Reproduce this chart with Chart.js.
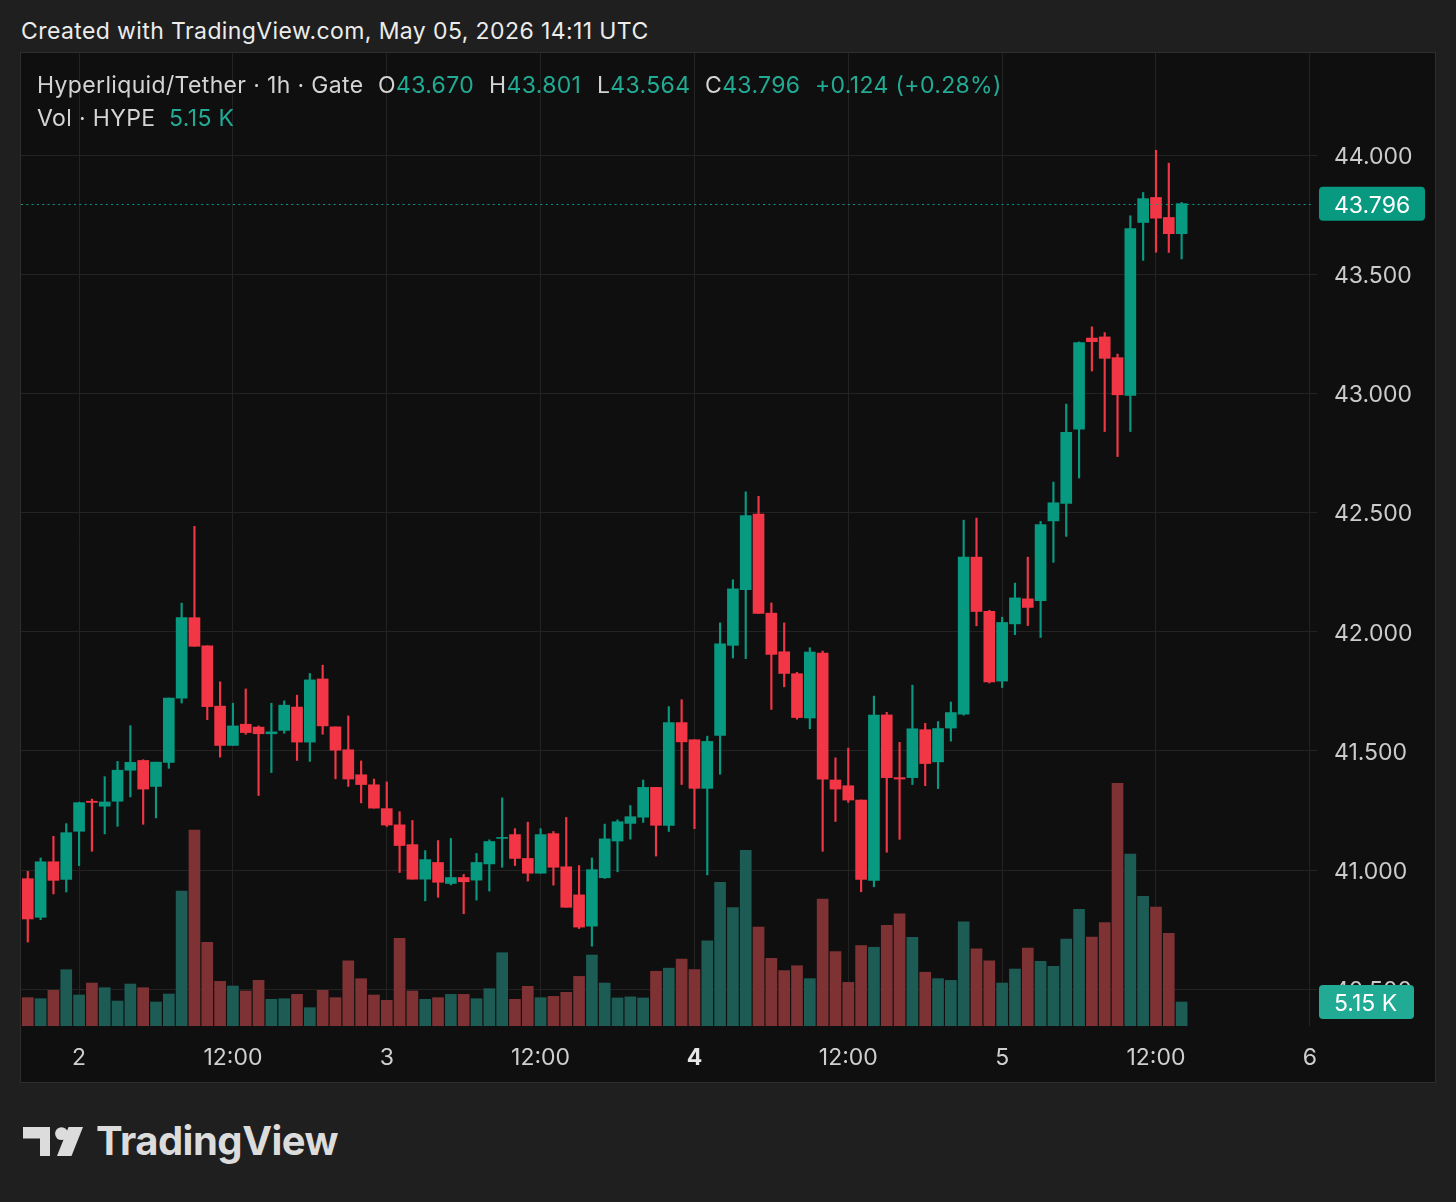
<!DOCTYPE html>
<html>
<head>
<meta charset="utf-8">
<script src="https://cdn.jsdelivr.net/npm/chart.js@4.4.1/dist/chart.umd.min.js"></script>
<style>
  html, body { margin: 0; padding: 0; background: #1f1f1f; width: 1456px; height: 1202px; overflow: hidden; font-family: Inter, "Noto Sans", sans-serif; }
  #created { position: absolute; left: 21px; top: 17px; font-size: 23px; line-height: 28px; color: #ececec; white-space: pre; letter-spacing: 0.4px; }
  #panel { position: absolute; left: 20px; top: 52px; width: 1416px; height: 1031px; box-sizing: border-box; border: 1px solid #2e2e2e; background: #0f0f0f; }
  #chart { position: absolute; left: 0; top: 0; }
  .lg { position: absolute; font-size: 23px; line-height: 28px; color: #d4d4d4; white-space: pre; letter-spacing: 0.35px; }
  .up { color: #22ab94; }
  #logoText { position: absolute; left: 96px; top: 1117px; font-size: 40px; line-height: 48px; font-weight: 700; color: #dcdcdc; letter-spacing: -0.5px; }
  #logoIcon { position: absolute; left: 23px; top: 1127px; }
</style>
</head>
<body>
<div id="created">Created with TradingView.com, May 05, 2026 14:11 UTC</div>
<div id="panel"><canvas id="chart" width="1414" height="1029"></canvas></div>

<div class="lg" style="left:37px;top:71px">Hyperliquid/Tether · 1h · Gate</div>
<div class="lg" style="left:378px;top:71px">O<span class="up">43.670</span></div>
<div class="lg" style="left:489px;top:71px">H<span class="up">43.801</span></div>
<div class="lg" style="left:597px;top:71px">L<span class="up">43.564</span></div>
<div class="lg" style="left:705px;top:71px">C<span class="up">43.796</span></div>
<div class="lg up" style="left:815px;top:71px">+0.124 (+0.28%)</div>
<div class="lg" style="left:37px;top:104px">Vol · HYPE</div>
<div class="lg up" style="left:169px;top:104px">5.15 K</div>

<svg id="logoIcon" width="62" height="30" viewBox="0 0 62 30">
  <path d="M0 0 H27 V29 H17 V11.5 H0 Z" fill="#dcdcdc"/>
  <circle cx="38.5" cy="6.6" r="6.4" fill="#dcdcdc"/>
  <path d="M45.5 0 H60 L48.5 29 H34 Z" fill="#dcdcdc"/>
</svg>
<div id="logoText">TradingView</div>

<script>
// hourly candles, May 1 20:00 -> May 5 14:00 UTC
const opens = [40.964, 40.802, 41.035, 40.961, 41.163, 41.289, 41.268, 41.289, 41.419, 41.460,
  41.351, 41.452, 41.721, 42.059, 41.941, 41.688, 41.523, 41.612, 41.600, 41.572,
  41.586, 41.684, 41.537, 41.802, 41.601, 41.505, 41.400, 41.358, 41.258, 41.190,
  41.107, 40.962, 41.032, 40.944, 40.969, 40.958, 41.026, 41.133, 41.149, 41.049,
  40.987, 41.153, 41.014, 40.896, 40.765, 40.968, 41.122, 41.196, 41.222, 41.347,
  41.188, 41.619, 41.547, 41.343, 41.565, 41.943, 42.177, 42.494, 42.078, 41.916,
  41.824, 41.638, 41.910, 41.378, 41.354, 41.294, 40.957, 41.651, 41.388, 41.388,
  41.589, 41.454, 41.596, 41.654, 42.313, 42.086, 41.793, 42.033, 42.138, 42.130,
  42.465, 42.538, 42.850, 43.232, 43.237, 43.150, 42.991, 43.717, 43.822, 43.738,
  43.670];
const highs = [40.995, 41.051, 41.142, 41.195, 41.285, 41.298, 41.392, 41.456, 41.606, 41.463,
  41.453, 41.722, 42.120, 42.442, 41.941, 41.790, 41.700, 41.760, 41.605, 41.700,
  41.710, 41.734, 41.825, 41.860, 41.601, 41.647, 41.458, 41.382, 41.370, 41.245,
  41.208, 41.082, 41.124, 41.133, 40.982, 41.070, 41.127, 41.303, 41.174, 41.201,
  41.174, 41.162, 41.221, 41.019, 41.051, 41.193, 41.211, 41.271, 41.378, 41.347,
  41.686, 41.715, 41.547, 41.562, 42.037, 42.218, 42.587, 42.568, 42.121, 42.037,
  41.830, 41.933, 41.919, 41.471, 41.512, 41.294, 41.730, 41.662, 41.536, 41.776,
  41.616, 41.623, 41.705, 42.468, 42.477, 42.090, 42.061, 42.204, 42.313, 42.463,
  42.628, 42.955, 43.216, 43.279, 43.255, 43.165, 43.745, 43.843, 44.020, 43.966,
  43.801];
const lows = [40.698, 40.792, 40.900, 40.908, 41.019, 41.079, 41.152, 41.184, 41.307, 41.192,
  41.219, 41.427, 41.701, 41.939, 41.631, 41.474, 41.523, 41.570, 41.313, 41.409,
  41.574, 41.460, 41.456, 41.570, 41.383, 41.351, 41.282, 41.260, 41.183, 40.990,
  40.962, 40.871, 40.886, 40.938, 40.817, 40.874, 40.912, 41.012, 41.019, 40.954,
  40.987, 40.937, 40.844, 40.755, 40.681, 40.965, 40.993, 41.130, 41.200, 41.059,
  41.162, 41.359, 41.174, 40.980, 41.402, 41.890, 41.887, 42.077, 41.674, 41.769,
  41.633, 41.593, 41.079, 41.204, 41.284, 40.909, 40.930, 41.075, 41.129, 41.359,
  41.354, 41.342, 41.541, 41.650, 42.025, 41.785, 41.766, 41.988, 42.026, 41.976,
  42.291, 42.400, 42.645, 43.094, 42.840, 42.735, 42.840, 43.558, 43.592, 43.591,
  43.564];
const closes = [40.795, 41.035, 40.957, 41.157, 41.283, 41.284, 41.286, 41.419, 41.452, 41.340,
  41.453, 41.722, 42.059, 41.939, 41.686, 41.523, 41.605, 41.577, 41.572, 41.580,
  41.692, 41.537, 41.798, 41.605, 41.503, 41.382, 41.359, 41.260, 41.189, 41.103,
  40.962, 41.044, 40.949, 40.969, 40.951, 41.032, 41.120, 41.137, 41.049, 40.987,
  41.149, 41.012, 40.844, 40.761, 41.002, 41.131, 41.203, 41.224, 41.347, 41.188,
  41.619, 41.538, 41.343, 41.540, 41.949, 42.180, 42.487, 42.077, 41.905, 41.825,
  41.640, 41.915, 41.381, 41.340, 41.294, 40.961, 41.650, 41.388, 41.382, 41.593,
  41.447, 41.594, 41.661, 42.313, 42.085, 41.790, 42.039, 42.142, 42.102, 42.450,
  42.541, 42.837, 43.213, 43.217, 43.147, 42.994, 43.691, 43.817, 43.735, 43.670,
  43.796];
// volume in thousands of HYPE
const volumes = [6.08, 5.86, 7.65, 12.08, 6.65, 9.22, 8.22, 5.36, 9.01, 8.22,
  5.15, 6.86, 28.96, 42.04, 17.95, 9.58, 8.58, 7.51, 9.80, 5.72,
  5.86, 6.79, 3.93, 7.65, 6.08, 14.01, 10.15, 6.65, 5.51, 18.80,
  7.51, 5.72, 6.08, 6.79, 6.79, 5.86, 8.01, 15.73, 5.72, 8.51,
  6.08, 6.36, 7.22, 10.65, 15.23, 9.22, 6.02, 6.25, 6.02, 11.74,
  12.42, 14.37, 12.12, 18.29, 30.85, 25.43, 37.70, 21.22, 14.52, 11.89,
  12.94, 10.16, 27.21, 15.96, 9.36, 17.27, 16.90, 21.62, 24.09, 19.01,
  11.54, 10.16, 9.79, 22.35, 16.54, 14.00, 9.22, 12.23, 16.73, 13.87,
  12.80, 18.66, 25.03, 19.09, 22.17, 52.05, 36.89, 27.81, 25.53, 19.88,
  5.15];

// time axis: hours counted from May 1 20:00
const timeTickHours = [4, 16, 28, 40, 52, 64, 76, 88, 100];
const timeTickLabels = ['2', '12:00', '3', '12:00', '4', '12:00', '5', '12:00', '6'];
const priceTicks = [40.5, 41.0, 41.5, 42.0, 42.5, 43.0, 43.5, 44.0];

const UP = '#089981', DOWN = '#f23645';
const UP_VOL = '#1c5c55', DOWN_VOL = '#7e3234';

const isUp = opens.map((o, i) => closes[i] >= o);
const candleColors = isUp.map(u => u ? UP : DOWN);
const volColors = isUp.map(u => u ? UP_VOL : DOWN_VOL);

const lastPricePlugin = {
  id: 'lastPrice',
  afterDatasetsDraw(chart) {
    const { ctx, chartArea: a, scales } = chart;
    const y = Math.round(scales.y.getPixelForValue(closes[closes.length - 1])) + 0.5;
    ctx.save();
    ctx.strokeStyle = UP;
    ctx.lineWidth = 1;
    ctx.setLineDash([2, 3.3]);
    ctx.beginPath();
    ctx.moveTo(a.left, y);
    ctx.lineTo(a.right - 4, y);
    ctx.stroke();
    ctx.restore();
  },
  afterDraw(chart) {
    const { ctx, chartArea: a, scales } = chart;
    const last = closes.length - 1;
    const badge = (yc, w, color, text) => {
      ctx.save();
      ctx.fillStyle = color;
      ctx.beginPath();
      ctx.roundRect(a.right + 2, yc - 17, w, 34, 4);
      ctx.fill();
      ctx.fillStyle = '#ffffff';
      ctx.font = '23px Inter, "Noto Sans", sans-serif';
      ctx.textBaseline = 'middle';
      ctx.textAlign = 'left';
      ctx.fillText(text, a.right + 17, yc + 2);
      ctx.restore();
    };
    badge(scales.y.getPixelForValue(closes[last]), 106, UP, closes[last].toFixed(3));
    badge(scales.v.getPixelForValue(volumes[last]), 95, '#22ab94', volumes[last].toFixed(2) + ' K');
  }
};

Chart.defaults.font.family = 'Inter, "Noto Sans", sans-serif';
Chart.defaults.font.size = 23;

new Chart(document.getElementById('chart'), {
  type: 'bar',
  data: {
    datasets: [
      {
        label: 'Volume',
        yAxisID: 'v',
        data: volumes.map((v, i) => ({ x: i, y: v })),
        backgroundColor: volColors,
        barThickness: 11,
        grouped: false,
        order: 3
      },
      {
        label: 'Wicks',
        yAxisID: 'y',
        data: highs.map((h, i) => ({ x: i, y: [lows[i], h] })),
        backgroundColor: candleColors,
        barThickness: 1.5,
        grouped: false,
        order: 2
      },
      {
        label: 'Bodies',
        yAxisID: 'y',
        data: opens.map((o, i) => ({ x: i, y: [o, closes[i]] })),
        backgroundColor: candleColors,
        barThickness: 11,
        minBarLength: 1,
        grouped: false,
        order: 1
      }
    ]
  },
  options: {
    responsive: false,
    animation: false,
    layout: { padding: 0 },
    plugins: { legend: { display: false }, tooltip: { enabled: false } },
    scales: {
      x: {
        type: 'linear',
        min: -0.53,
        max: 100.56,
        offset: false,
        grid: { color: '#232323', offset: false, drawTicks: false },
        border: { display: false },
        afterBuildTicks: s => { s.ticks = timeTickHours.map(v => ({ value: v })); },
        afterFit: s => { s.height = 56; s.paddingLeft = 0; s.paddingRight = 0; },
        ticks: {
          autoSkip: false,
          maxRotation: 0,
          padding: 18,
          color: ctx => ctx.tick && ctx.tick.label === '4' ? '#e6e6e6' : '#cfcfcf',
          font: ctx => ({ size: 23, weight: ctx.tick && ctx.tick.label === '4' ? '700' : '400' }),
          callback: v => timeTickLabels[timeTickHours.indexOf(v)]
        }
      },
      y: {
        position: 'right',
        min: 40.346,
        max: 44.428,
        grid: { color: '#232323', drawTicks: false },
        border: { display: false },
        afterBuildTicks: s => { s.ticks = priceTicks.map(v => ({ value: v })); },
        afterFit: s => { s.width = 118; s.paddingTop = 0; s.paddingBottom = 0; },
        ticks: {
          padding: 17,
          labelOffset: 2,
          color: '#cbcbcb',
          callback: v => v.toFixed(3)
        }
      },
      v: {
        display: false,
        min: 0,
        max: 208.8
      }
    }
  },
  plugins: [lastPricePlugin]
});
</script>
</body>
</html>
